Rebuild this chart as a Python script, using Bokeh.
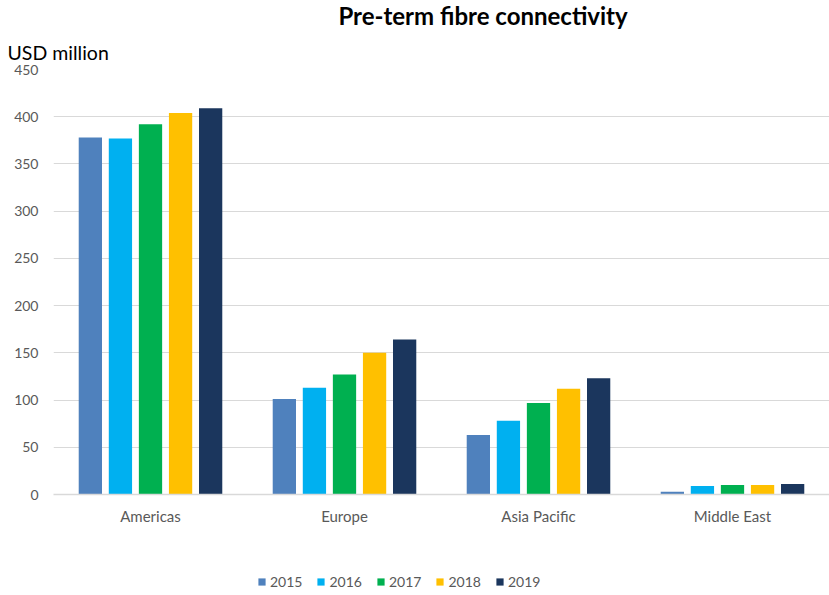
from bokeh.plotting import figure
from bokeh.layouts import column
from bokeh.models import ColumnDataSource, FactorRange, Range1d, Label, Title, Legend, LegendItem, FixedTicker
from bokeh.transform import dodge
from bokeh.embed import file_html
from bokeh.resources import INLINE

regions = ["Americas", "Europe", "Asia Pacific", "Middle East"]
years = ["2015", "2016", "2017", "2018", "2019"]
v2015 = [378, 101, 63, 3]
v2016 = [377, 113, 78, 9]
v2017 = [392, 127, 97, 10]
v2018 = [404, 150, 112, 10]
v2019 = [409, 164, 123, 11]
colors = ["#4F81BD", "#00B0F0", "#00B050", "#FFC000", "#1B365D"]
y_ticks = [0, 50, 100, 150, 200, 250, 300, 350, 400, 450]
title_text = "Pre-term fibre connectivity"
unit_text = "USD million"

FONT = "Lato"
data = dict(region=regions)
for yr, vals in zip(years, [v2015, v2016, v2017, v2018, v2019]):
    data[yr] = vals
src = ColumnDataSource(data)

# header strip (its frame is aligned with the chart frame, page x 54..829)
hd = figure(width=829, height=32, x_range=Range1d(54, 829), y_range=Range1d(32, 0),
            x_axis_type=None, y_axis_type=None,
            output_backend="svg", toolbar_location=None,
            min_border_left=0, min_border_right=0, min_border_top=0, min_border_bottom=0)
hd.outline_line_color = None
hd.grid.visible = False
hd.add_layout(Label(x=483, y=15, text=title_text, text_align="center", text_baseline="middle",
                    text_font=FONT, text_font_style="bold", text_font_size="24px",
                    text_color="#000000"))

p = figure(width=829, height=508, x_range=FactorRange(*regions), y_range=Range1d(0, 450),
           output_backend="svg", toolbar_location=None,
           min_border_left=53, min_border_right=0, min_border_top=37, min_border_bottom=46)
p.outline_line_color = None
p.add_layout(Title(text=unit_text, align="left", offset=-46, text_font=FONT,
                   text_font_style="normal", text_font_size="19.5px", text_color="#000000",
                   standoff=12), "above")

offsets = [-0.31, -0.155, 0.0, 0.155, 0.31]
for yr, off, c in zip(years, offsets, colors):
    p.vbar(x=dodge("region", off, range=p.x_range), top=yr, width=0.12, source=src,
           fill_color=c, line_color=None)

p.yaxis.ticker = FixedTicker(ticks=y_ticks)
p.yaxis.axis_line_color = None
p.yaxis.major_tick_line_color = None
p.yaxis.minor_tick_line_color = None
p.yaxis.major_label_text_font = FONT
p.yaxis.major_label_text_font_size = "14px"
p.yaxis.major_label_text_color = "#595959"
p.yaxis.major_label_standoff = 9

p.xaxis.axis_line_color = "#D9D9D9"
p.xaxis.axis_line_width = 1.5
p.xaxis.major_tick_line_color = None
p.xaxis.minor_tick_line_color = None
p.xaxis.major_label_text_font = FONT
p.xaxis.major_label_text_font_size = "15px"
p.xaxis.major_label_text_color = "#595959"
p.xaxis.major_label_standoff = 6

p.xgrid.grid_line_color = None
p.ygrid.grid_line_color = "#D9D9D9"
p.ygrid.grid_line_width = 1.2
p.ygrid.ticker = FixedTicker(ticks=y_ticks)

# legend strip below the chart (same bar series, hidden renderers)
lg = figure(width=829, height=55, x_range=p.x_range, y_range=Range1d(0, 450),
            output_backend="svg", toolbar_location=None,
            min_border_left=0, min_border_right=0, min_border_top=0, min_border_bottom=0)
lg.outline_line_color = None
lg.axis.visible = False
lg.grid.visible = False
lg_renderers = []
for yr, off, c in zip(years, offsets, colors):
    r = lg.vbar(x=dodge("region", off, range=lg.x_range), top=yr, width=0.12, source=src,
                fill_color=c, line_color=None)
    r.visible = False
    lg_renderers.append(r)

legend = Legend(items=[LegendItem(label=yr, renderers=[r]) for yr, r in zip(years, lg_renderers)],
                orientation="horizontal", location=(204, 5),
                label_text_font=FONT, label_text_font_size="14px", label_text_color="#595959",
                glyph_width=9, glyph_height=9, spacing=14, padding=0, margin=0,
                label_standoff=4, border_line_color=None, background_fill_alpha=0,
                inactive_fill_alpha=0)
lg.add_layout(legend, "center")

open("out.html", "w").write(file_html(column(hd, p, lg), INLINE))
